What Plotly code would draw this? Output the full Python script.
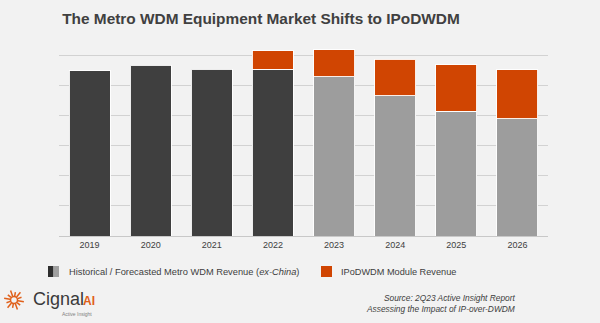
import math
import plotly.graph_objects as go

years = ["2019", "2020", "2021", "2022", "2023", "2024", "2025", "2026"]
historical = [5.48, 5.67, 5.53, 5.53, None, None, None, None]
forecast = [None, None, None, None, 5.28, 4.65, 4.13, 3.89]
ipodwdm = [None, None, None, 0.61, 0.89, 1.22, 1.55, 1.62]

DARK = "#3f3f3f"
GRAY = "#9d9d9d"
ORANGE = "#d04502"
BG = "#f2f2f2"
TXT = "#404040"
FONT = "Liberation Sans, Arial, sans-serif"

W, H = 600, 323
ML, MR, MT, MB = 59, 52, 40, 87
PW, PH = W - ML - MR, H - MT - MB


def px(x):
    return (x - ML) / PW


def py(y):
    return (H - MB - y) / PH


fig = go.Figure()
line = dict(color="rgba(255,255,255,0.9)", width=1)
fig.add_bar(x=years, y=historical, marker=dict(color=DARK, line=line), width=0.67, showlegend=False)
fig.add_bar(x=years, y=forecast, marker=dict(color=GRAY, line=line), width=0.67, showlegend=False)
fig.add_bar(x=years, y=ipodwdm, marker=dict(color=ORANGE, line=line), width=0.67, showlegend=False)

shapes = []
ann = []

# legend
shapes.append(dict(type="rect", xref="paper", yref="paper", x0=px(48), x1=px(53.5), y0=py(277), y1=py(266),
                   fillcolor="#2e2e2e", line=dict(width=0)))
shapes.append(dict(type="rect", xref="paper", yref="paper", x0=px(53.5), x1=px(59), y0=py(277), y1=py(266),
                   fillcolor="#a0a0a0", line=dict(width=0)))
shapes.append(dict(type="rect", xref="paper", yref="paper", x0=px(321), x1=px(332), y0=py(277), y1=py(266),
                   fillcolor=ORANGE, line=dict(width=0)))
ann.append(dict(text="Historical / Forecasted Metro WDM Revenue (<i>ex-China</i>)", x=px(67), y=py(271.5),
                xref="paper", yref="paper", xanchor="left", yanchor="middle", showarrow=False,
                font=dict(family=FONT, size=9.3, color=TXT)))
ann.append(dict(text="IPoDWDM Module Revenue", x=px(339), y=py(271.5),
                xref="paper", yref="paper", xanchor="left", yanchor="middle", showarrow=False,
                font=dict(family=FONT, size=9.2, color=TXT)))

# source
ann.append(dict(text="<i>Source: 2Q23 Active Insight Report<br>Assessing the Impact of IP-over-DWDM</i>",
                x=px(518), y=py(303), xref="paper", yref="paper", xanchor="right", yanchor="middle",
                align="right", showarrow=False, font=dict(family=FONT, size=8.4, color=TXT)))

# logo sunburst
cx, cy = 14, 300
for i in range(12):
    a = math.radians(i * 30 + 10)
    r1, r2 = 4, (10 if i % 2 == 0 else 8)
    shapes.append(dict(type="line", xref="paper", yref="paper",
                       x0=px(cx + r1 * math.cos(a)), y0=py(cy + r1 * math.sin(a)),
                       x1=px(cx + r2 * math.cos(a)), y1=py(cy + r2 * math.sin(a)),
                       line=dict(color="#e0601a", width=1.5)))
shapes.append(dict(type="circle", xref="paper", yref="paper", x0=px(cx - 3.5), x1=px(cx + 3.5),
                   y0=py(cy + 3.5), y1=py(cy - 3.5), line=dict(color="#e0601a", width=1.5)))
ann.append(dict(text="Cignal", x=px(31), y=py(299), xref="paper", yref="paper", xanchor="left",
                yanchor="middle", showarrow=False, font=dict(family=FONT, size=18, color="#3a3a3a")))
ann.append(dict(text="<b>AI</b>", x=px(81), y=py(301), xref="paper", yref="paper", xanchor="left",
                yanchor="middle", showarrow=False, font=dict(family=FONT, size=12, color="#e0601a")))
ann.append(dict(text="Active Insight", x=px(60), y=py(314), xref="paper", yref="paper", xanchor="left",
                yanchor="middle", showarrow=False, font=dict(family=FONT, size=5, color="#808080")))

fig.update_layout(
    width=W, height=H, barmode="stack",
    margin=dict(l=ML, r=MR, t=MT, b=MB),
    paper_bgcolor=BG, plot_bgcolor=BG,
    title=dict(text="<b>The Metro WDM Equipment Market Shifts to IPoDWDM</b>", x=261 / W, xanchor="center",
               y=1 - 19 / H, yanchor="middle", font=dict(family=FONT, size=15.4, color=TXT)),
    xaxis=dict(showgrid=False, tickfont=dict(family=FONT, size=9, color=TXT), showline=True,
               linecolor="#c8c8c8", linewidth=1, ticks=""),
    yaxis=dict(range=[0, 6.5], dtick=1, showticklabels=False, gridcolor="#d2d2d2", gridwidth=1,
               zeroline=False),
    shapes=shapes, annotations=ann,
)

fig.write_html("out.html")
